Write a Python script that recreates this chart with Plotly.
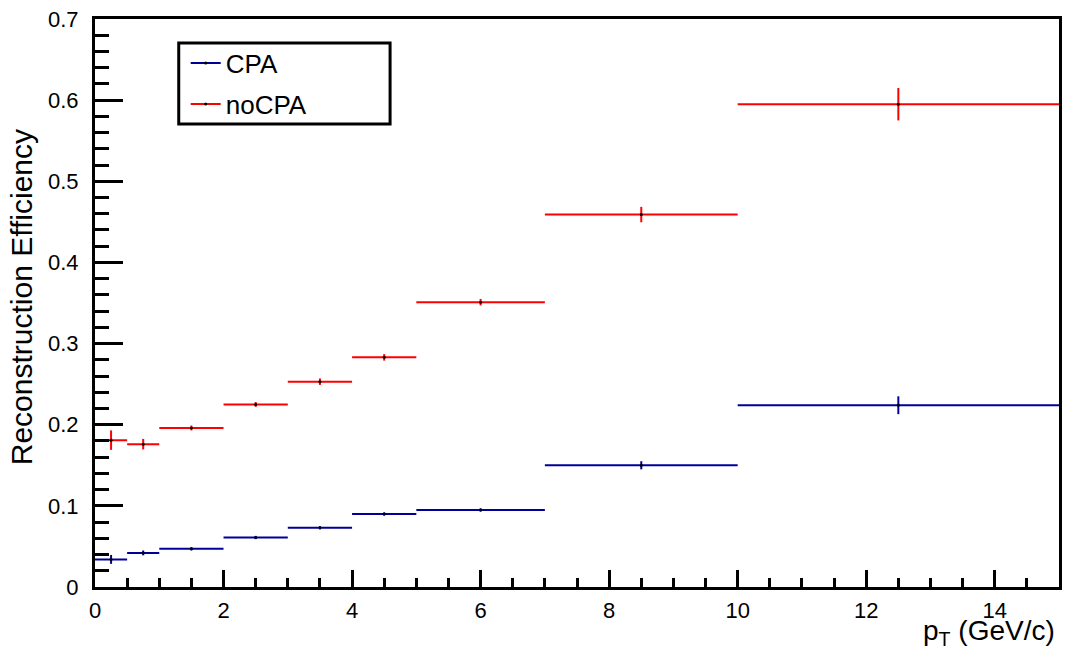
import plotly.graph_objects as go

# pT bins (GeV/c)
bin_edges = [0, 0.5, 1, 2, 3, 4, 5, 7, 10, 15]
bin_centers = [(a + b) / 2 for a, b in zip(bin_edges[:-1], bin_edges[1:])]
bin_half_widths = [(b - a) / 2 for a, b in zip(bin_edges[:-1], bin_edges[1:])]

# Reconstruction efficiency with statistical errors
cpa_eff = [0.034, 0.042, 0.047, 0.061, 0.073, 0.090, 0.095, 0.150, 0.224]
cpa_err = [0.0055, 0.003, 0.002, 0.002, 0.002, 0.002, 0.002, 0.005, 0.011]
nocpa_eff = [0.181, 0.176, 0.196, 0.225, 0.253, 0.283, 0.351, 0.459, 0.595]
nocpa_err = [0.012, 0.0065, 0.003, 0.003, 0.004, 0.004, 0.004, 0.0095, 0.020]

series = [
    ("CPA", cpa_eff, cpa_err, "#000099", "legend"),
    ("noCPA", nocpa_eff, nocpa_err, "#ff0000", "legend2"),
]

FONT = "Liberation Sans, Arial, sans-serif"
W, H = 1065, 653
ML, MR, MT, MB = 95, 3, 19, 66
PW, PH = W - ML - MR, H - MT - MB


def px_x(px):
    return (px - ML) / PW


def px_y(py):
    return (H - MB - py) / PH


fig = go.Figure()
for name, vals, errs, color, leg in series:
    fig.add_trace(go.Scatter(
        x=bin_centers, y=vals, mode="markers",
        marker=dict(size=3, color="black"),
        error_x=dict(type="data", array=bin_half_widths, color=color,
                     thickness=2, width=0),
        error_y=dict(type="data", array=errs, color=color,
                     thickness=2, width=0),
        showlegend=False, name=name,
    ))
    # legend entry: line with a small marker in the middle
    fig.add_trace(go.Scatter(
        x=[None], y=[None], mode="lines+markers", name=name,
        line=dict(color=color, width=2),
        marker=dict(size=3, color="black"),
        legend=leg, showlegend=True,
    ))

axis_common = dict(
    showgrid=False, zeroline=False, showline=True, linecolor="black",
    linewidth=3, mirror=True, ticks="inside", tickcolor="black",
    tickwidth=3, tickfont=dict(family=FONT, size=22, color="black"),
)

fig.update_xaxes(
    range=[0, 15], dtick=2, tick0=0, ticklen=17, ticklabelstandoff=2,
    minor=dict(dtick=0.5, ticklen=9, tickwidth=3, tickcolor="black",
               ticks="inside"),
    **axis_common,
)
fig.update_yaxes(
    range=[0, 0.7], dtick=0.1, tick0=0, ticklen=28, ticklabelstandoff=9,
    minor=dict(dtick=0.02, ticklen=14, tickwidth=3, tickcolor="black",
               ticks="inside"),
    **axis_common,
)

legend_style = dict(
    font=dict(family=FONT, size=26, color="black"),
    bgcolor="rgba(0,0,0,0)", borderwidth=0,
    xanchor="left", yanchor="middle", itemwidth=30,
)

fig.update_layout(
    width=W, height=H,
    margin=dict(l=ML, r=MR, t=MT, b=MB),
    paper_bgcolor="white", plot_bgcolor="white",
    legend=dict(x=px_x(186), y=px_y(63), **legend_style),
    legend2=dict(x=px_x(186), y=px_y(104), **legend_style),
    shapes=[dict(
        type="rect", xref="paper", yref="paper",
        x0=px_x(179), x1=px_x(391), y0=px_y(124), y1=px_y(43),
        line=dict(color="black", width=3), fillcolor="rgba(0,0,0,0)",
    )],
    annotations=[
        dict(text="Reconstruction Efficiency", textangle=-90,
             xref="paper", yref="paper", x=px_x(21), y=px_y(297),
             xanchor="center", yanchor="middle", showarrow=False,
             font=dict(family=FONT, size=30, color="black")),
        dict(text="p<sub>T</sub> (GeV/c)",
             xref="paper", yref="paper", x=px_x(1060), y=px_y(632),
             xanchor="right", yanchor="middle", showarrow=False,
             font=dict(family=FONT, size=28, color="black")),
    ],
)

fig.write_html("out.html")
